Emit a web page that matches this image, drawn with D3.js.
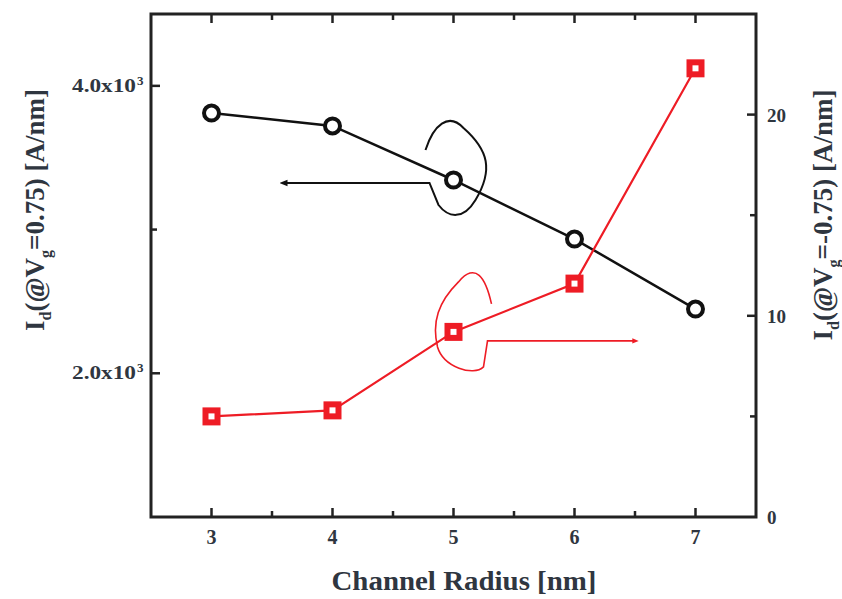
<!DOCTYPE html>
<html>
<head>
<meta charset="UTF-8">
<style>
  body { margin: 0; background: #fff; }
  text { font-family: "Liberation Serif", "Times New Roman", serif; font-weight: bold; }
</style>
</head>
<body>
<svg></svg>
<script src="https://d3js.org/d3.v7.min.js"></script>
<script>
  let width = 842, height = 599;

  // data
  let radius = [3, 4, 5, 6, 7];
  let idPos = [3811, 3721, 3345, 2934, 2447];   // left axis, Vg = 0.75
  let idNeg = [5.0, 5.3, 9.2, 11.6, 22.3];      // right axis, Vg = -0.75
  let xTicks = [3, 4, 5, 6, 7];
  let leftTicks = [2000, 4000];
  let rightTicks = [0, 10, 20];

  let margin = { left: 151, right: 86, top: 14, bottom: 82 };

  let svg = d3.select("svg")
    .attr("width", width)
    .attr("height", height);

  let x = d3.scaleLinear().domain([2.5, 7.5]).range([margin.left, width - margin.right]);
  let yL = d3.scaleLinear().domain([1000, 4500]).range([height - margin.bottom, margin.top]);
  let yR = d3.scaleLinear().domain([0, 25]).range([height - margin.bottom, margin.top]);

  let x0 = margin.left, x1 = width - margin.right;
  let y0 = height - margin.bottom, y1 = margin.top;

  // ticks (inward)
  let tickG = svg.append("g").attr("stroke", "#222").attr("stroke-width", 2.5);
  d3.range(3, 7.01, 0.5).forEach(v => {
    let len = Number.isInteger(v) ? 9 : 6;
    tickG.append("line").attr("x1", x(v)).attr("x2", x(v)).attr("y1", y0).attr("y2", y0 - len);
    tickG.append("line").attr("x1", x(v)).attr("x2", x(v)).attr("y1", y1).attr("y2", y1 + len);
  });
  [2000, 3000, 4000].forEach(v => {
    let len = v % 2000 === 0 ? 9 : 6;
    tickG.append("line").attr("x1", x0).attr("x2", x0 + len).attr("y1", yL(v)).attr("y2", yL(v));
  });
  [5, 10, 15, 20].forEach(v => {
    let len = v % 10 === 0 ? 9 : 6;
    tickG.append("line").attr("x1", x1).attr("x2", x1 - len).attr("y1", yR(v)).attr("y2", yR(v));
  });

  // frame
  svg.append("rect")
    .attr("x", x0).attr("y", y1)
    .attr("width", x1 - x0).attr("height", y0 - y1)
    .attr("fill", "none").attr("stroke", "#222").attr("stroke-width", 3);

  // tick labels
  let labelColor = "#2f3640";
  svg.append("g").selectAll("text").data(xTicks).enter().append("text")
    .attr("x", d => x(d)).attr("y", y0 + 27)
    .attr("text-anchor", "middle").attr("font-size", 20).attr("fill", labelColor)
    .text(d => d);

  svg.append("g").selectAll("text").data(leftTicks).enter().append("text")
    .attr("x", 72).attr("y", d => yL(d) + 6)
    .attr("font-size", 19).attr("fill", labelColor)
    .attr("textLength", 64).attr("lengthAdjust", "spacingAndGlyphs")
    .text(d => (d / 1000).toFixed(1) + "x10");
  svg.append("g").selectAll("text").data(leftTicks).enter().append("text")
    .attr("x", 137).attr("y", d => yL(d) - 1)
    .attr("font-size", 13).attr("fill", labelColor)
    .text("3");

  svg.append("g").selectAll("text").data(rightTicks).enter().append("text")
    .attr("x", x1 + 11).attr("y", d => yR(d) + 7)
    .attr("font-size", 19).attr("fill", labelColor)
    .text(d => d);

  // axis titles
  svg.append("text")
    .attr("x", 464).attr("y", 590)
    .attr("text-anchor", "middle").attr("font-size", 28).attr("fill", labelColor)
    .attr("textLength", 265).attr("lengthAdjust", "spacingAndGlyphs")
    .text("Channel Radius [nm]");

  function yTitle(cx, cy, sign, len) {
    let t = svg.append("text")
      .attr("transform", "translate(" + cx + "," + cy + ") rotate(-90)")
      .attr("text-anchor", "middle").attr("font-size", 27).attr("fill", labelColor);
    t.append("tspan").text("I");
    t.append("tspan").attr("font-size", 16).attr("dy", 7).text("d");
    t.append("tspan").attr("dy", -7).text("(@V");
    t.append("tspan").attr("font-size", 16).attr("dy", 7).text("g");
    t.append("tspan").attr("dy", -7).text("=" + sign + "0.75) [A/nm]");
  }
  yTitle(44, 210, "");
  yTitle(832, 215, "-");

  // black series
  let lineL = d3.line().x((d, i) => x(radius[i])).y(d => yL(d));
  svg.append("path").datum(idPos).attr("d", lineL)
    .attr("fill", "none").attr("stroke", "#111").attr("stroke-width", 2.5);
  svg.append("g").selectAll("circle").data(idPos).enter().append("circle")
    .attr("cx", (d, i) => x(radius[i])).attr("cy", d => yL(d)).attr("r", 7.5)
    .attr("fill", "#fff").attr("stroke", "#111").attr("stroke-width", 4);

  // red series
  let lineR = d3.line().x((d, i) => x(radius[i])).y(d => yR(d));
  svg.append("path").datum(idNeg).attr("d", lineR)
    .attr("fill", "none").attr("stroke", "#ee1c25").attr("stroke-width", 2.2);
  let sq = svg.append("g").selectAll("g").data(idNeg).enter().append("g")
    .attr("transform", (d, i) => "translate(" + x(radius[i]) + "," + yR(d) + ")");
  sq.append("rect").attr("x", -9).attr("y", -9).attr("width", 18).attr("height", 18).attr("fill", "#ee1c25");
  sq.append("rect").attr("x", -3).attr("y", -3).attr("width", 6).attr("height", 6).attr("fill", "#fff");

  // annotation loops and arrows
  svg.append("defs").selectAll("marker").data([["ah", "#111"], ["ahr", "#ee1c25"]]).enter()
    .append("marker").attr("id", d => d[0])
    .attr("viewBox", "0 0 10 10").attr("refX", 5).attr("refY", 5)
    .attr("markerWidth", 4).attr("markerHeight", 4).attr("orient", "auto")
    .append("path").attr("d", "M0,1 L10,5 L0,9 Z").attr("fill", d => d[1]);

  let bx = x(5), by = yL(idPos[2]);
  svg.append("path")
    .attr("d", "M" + (bx - 28) + "," + (by - 30) +
      " C" + (bx - 20) + "," + (by - 55) + " " + (bx - 5) + "," + (by - 68) + " " + (bx + 10) + "," + (by - 52) +
      " C" + (bx + 35) + "," + (by - 30) + " " + (bx + 40) + "," + (by - 10) + " " + (bx + 22) + "," + (by + 20) +
      " C" + (bx + 10) + "," + (by + 40) + " " + (bx - 5) + "," + (by + 38) + " " + (bx - 15) + "," + (by + 25) +
      " L" + (bx - 24) + "," + (by + 3) +
      " L" + (bx - 170) + "," + (by + 3))
    .attr("fill", "none").attr("stroke", "#111").attr("stroke-width", 2)
    .attr("marker-end", "url(#ah)");

  let rx = x(5), ry = yR(idNeg[2]);
  svg.append("path")
    .attr("d", "M" + (rx + 38) + "," + (ry - 28) +
      " C" + (rx + 32) + "," + (ry - 55) + " " + (rx + 22) + "," + (ry - 70) + " " + (rx + 5) + "," + (ry - 50) +
      " C" + (rx - 15) + "," + (ry - 30) + " " + (rx - 22) + "," + (ry - 10) + " " + (rx - 16) + "," + (ry + 15) +
      " C" + (rx - 10) + "," + (ry + 35) + " " + (rx + 20) + "," + (ry + 45) + " " + (rx + 30) + "," + (ry + 35) +
      " L" + (rx + 34) + "," + (ry + 9) +
      " L" + (rx + 182) + "," + (ry + 9))
    .attr("fill", "none").attr("stroke", "#ee1c25").attr("stroke-width", 1.6)
    .attr("marker-end", "url(#ahr)");
</script>
</body>
</html>
